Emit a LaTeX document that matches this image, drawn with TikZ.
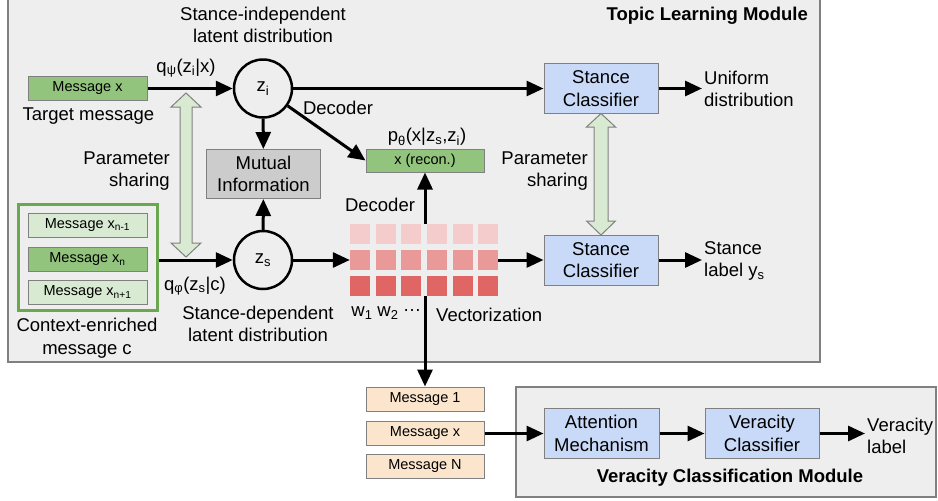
\documentclass[tikz,border=0pt]{standalone}
\usepackage{fontspec}
\setmainfont{Liberation Sans}
\usetikzlibrary{arrows.meta}
\definecolor{msggreen}{HTML}{93C47D}
\definecolor{ctxgreen}{HTML}{D9EAD3}
\definecolor{ctxborder}{HTML}{6AA84F}
\definecolor{clsblue}{HTML}{C9DAF8}
\definecolor{migray}{HTML}{CCCCCC}
\definecolor{modbg}{HTML}{EEEEEE}
\definecolor{msgorange}{HTML}{FCE5CD}
\definecolor{wlight}{HTML}{F4CCCC}
\definecolor{wmid}{HTML}{EA9999}
\definecolor{wdark}{HTML}{E06666}
\definecolor{boxline}{HTML}{808080}
\tikzset{
  big/.style={font=\fontsize{18.5}{22.5}\selectfont, align=center, inner sep=2pt},
  title/.style={font=\fontsize{18.5}{22.5}\selectfont\bfseries, inner sep=2pt},
  msg/.style={draw=boxline, line width=1pt, minimum width=119pt, minimum height=24pt,
    inner sep=0pt, font=\fontsize{14.5}{17}\selectfont},
  cls/.style={draw=boxline, line width=1pt, fill=clsblue, minimum width=114pt,
    minimum height=50pt, big},
  latent/.style={circle, draw, line width=2.5pt, minimum size=58pt, inner sep=0pt, big},
  share/.style={draw=boxline, fill=ctxgreen, line width=1pt},
  flow/.style={line width=3pt, ->},
  wsq/.style={minimum size=20pt, inner sep=0pt},
}
\begin{document}
\begin{tikzpicture}[x=1pt, y=-1pt, >={Triangle[length=17pt,width=15pt]}]
\useasboundingbox (0,0) rectangle (938,501);
% modules
\fill[modbg] (8,-5) rectangle (820,362);
\draw[boxline, line width=1.5pt] (8,-5) -- (8,362) -- (820,362) -- (820,-5);
\draw[boxline, fill=modbg, line width=1.5pt] (516,387) rectangle (936,497);
\node[title, anchor=east] (tlm) at (810,16) {Topic Learning Module};
\node[title] (vcm) at (730,478) {Veracity Classification Module};

% parameter sharing (left)
\draw[share] (186,93) -- (201,107) -- (192,107) -- (192,243) -- (201,243) -- (186,257)
  -- (171,243) -- (180,243) -- (180,107) -- (171,107) -- cycle;
\node[big, align=right, anchor=east] (ps1) at (172,171) {Parameter\\sharing};

% inputs
\node[msg, fill=msggreen] (msgx) at (87.5,88.5) {Message x};
\node[big] (tgt) at (88.5,116) {Target message};
\node[draw=ctxborder, line width=3pt, minimum width=139pt, minimum height=106pt] (ctx) at (87.5,257) {};
\node[msg, fill=ctxgreen] (xprev) at (87.5,225) {Message x\textsubscript{n-1}};
\node[msg, fill=msggreen] (xn) at (87.5,259.5) {Message x\textsubscript{n}};
\node[msg, fill=ctxgreen] (xnext) at (87.5,292.5) {Message x\textsubscript{n+1}};
\node[big] (ctxlab) at (87,338) {Context-enriched\\message c};

% latent variables
\node[latent] (zi) at (263,88.5) {z\textsubscript{i}};
\node[latent] (zs) at (263,260) {z\textsubscript{s}};
\node[big] (zilab) at (263,25) {Stance-independent\\latent distribution};
\node[big] (zslab) at (258,324) {Stance-dependent\\latent distribution};
\node[big] (qpsi) at (186,68) {q\textsubscript{ψ}(z\textsubscript{i}|x)};
\node[big] (qphi) at (195,286) {q\textsubscript{φ}(z\textsubscript{s}|c)};
\node[draw=boxline, line width=1pt, fill=migray, minimum width=114pt, minimum height=49pt, big] (mi) at (263.5,174) {Mutual\\Information};

% decoder
\node[msg, fill=msggreen, minimum width=118pt, minimum height=23pt] (recon) at (425,160.5) {x (recon.)};
\node[big] (ptheta) at (427,137) {p\textsubscript{θ}(x|z\textsubscript{s},z\textsubscript{i})};
\node[big] (dec1) at (338,108) {Decoder};
\node[big] (dec2) at (380,205) {Decoder};

% vectorization
\foreach \c in {0,...,5}
  \foreach \r/\col in {0/wlight,1/wmid,2/wdark}
    \node[wsq, fill=\col] (w-\r-\c) at (360+25.65*\c, 234+26*\r) {};
\node[big] (w1) at (362,313) {w\textsubscript{1}};
\node[big] (w2) at (388,313) {w\textsubscript{2}};
\node[big] (wdots) at (412,311) {\dots};
\node[big, anchor=west] (vec) at (434,315) {Vectorization};
\coordinate (gtop) at (425,224);
\coordinate (gbot) at (425,296);

% stance classifiers
\node[cls] (sc1) at (601,88.5) {Stance\\Classifier};
\node[cls] (sc2) at (601,260) {Stance\\Classifier};
\node[big, align=left, anchor=west] (unif) at (702,89) {Uniform\\distribution};
\node[big, align=left, anchor=west] (ys) at (702,261) {Stance\\label y\textsubscript{s}};
\draw[share] (601,113.5) -- (615.5,127) -- (608,127) -- (608,221) -- (615.5,221) -- (601,235)
  -- (586.5,221) -- (594,221) -- (594,127) -- (586.5,127) -- cycle;
\node[big, align=right, anchor=east] (ps2) at (590,171) {Parameter\\sharing};

% veracity
\node[msg, fill=msgorange, minimum width=118pt] (m1) at (425,399) {Message 1};
\node[msg, fill=msgorange, minimum width=118pt] (mx) at (425,433.5) {Message x};
\node[msg, fill=msgorange, minimum width=118pt] (mN) at (425,466) {Message N};
\node[cls, minimum width=115pt] (att) at (601.5,433.5) {Attention\\Mechanism};
\node[cls] (vc) at (762,433.5) {Veracity\\Classifier};
\node[big, align=left, anchor=west] (vlab) at (865,436) {Veracity\\label};

% connectors
\draw[flow] (msgx) -- (zi);
\draw[flow] (ctx.east |- zs) -- (zs);
\draw[flow] (zi) -- (mi);
\draw[flow] (zs) -- (mi);
\draw[flow] (zi) -- (sc1);
\draw[flow] (zi) -- (recon.west);
\draw[flow] (zs) -- (w-1-0);
\draw[flow] (gtop) -- (recon);
\draw[flow] (w-1-5) -- (sc2);
\draw[flow] (sc1) -- (unif.west |- sc1);
\draw[flow] (sc2) -- (ys.west |- sc2);
\draw[flow] (gbot) -- (m1);
\draw[flow] (mx) -- (att);
\draw[flow] (att) -- (vc);
\draw[flow] (vc) -- (vlab.west |- vc);
\end{tikzpicture}
\end{document}
